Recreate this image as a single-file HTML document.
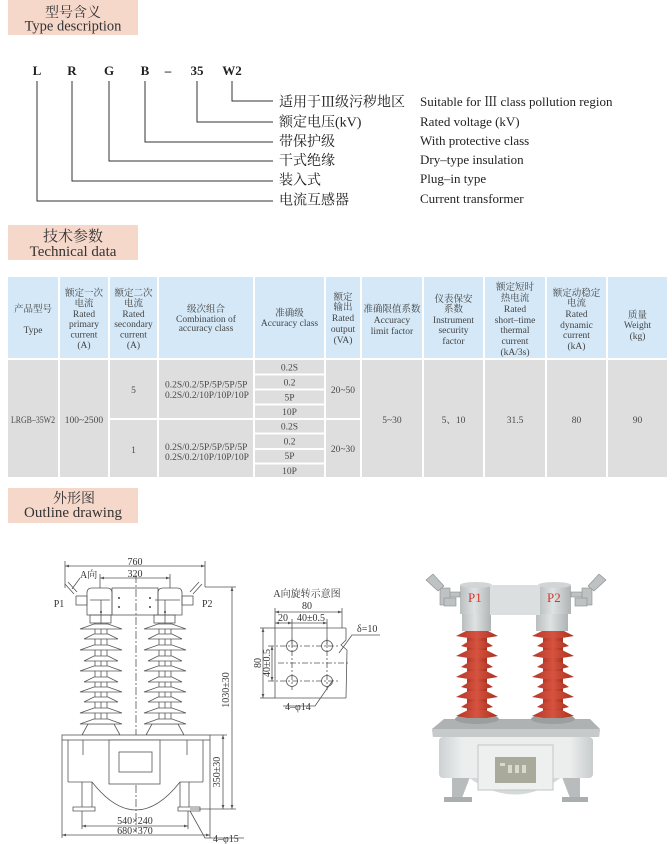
<!DOCTYPE html>
<html><head><meta charset="utf-8">
<style>
html,body{margin:0;padding:0;background:#fff;}
svg{display:block;}
text{font-family:"Liberation Serif","Noto Serif CJK SC",serif;}
</style></head>
<body>
<svg width="672" height="844" viewBox="0 0 672 844" xmlns="http://www.w3.org/2000/svg">
<defs>
<marker id="ar" viewBox="0 0 10 10" refX="10" refY="5" markerWidth="5" markerHeight="5" orient="auto-start-reverse"><path d="M0,1.5 L10,5 L0,8.5 Z" fill="#555"/></marker>
<linearGradient id="cyl" x1="0" x2="1" y1="0" y2="0"><stop offset="0" stop-color="#b9bebe"/><stop offset="0.45" stop-color="#dfe2e2"/><stop offset="1" stop-color="#aeb3b3"/></linearGradient>
<linearGradient id="red" x1="0" x2="1" y1="0" y2="0"><stop offset="0" stop-color="#b5372a"/><stop offset="0.5" stop-color="#d6533f"/><stop offset="1" stop-color="#a8301f"/></linearGradient>
<linearGradient id="body" x1="0" x2="1" y1="0" y2="0"><stop offset="0" stop-color="#cdd1d1"/><stop offset="0.15" stop-color="#eceeee"/><stop offset="0.85" stop-color="#eceeee"/><stop offset="1" stop-color="#c8cccc"/></linearGradient>
</defs>

<!-- ===== Type description ===== -->
<rect x="8" y="0" width="130" height="35" fill="#f6d8cb"/>
<text x="73" y="17" font-size="14" text-anchor="middle" fill="#333">型号含义</text>
<text x="73" y="30.5" font-size="14.5" text-anchor="middle" fill="#333">Type description</text>

<g font-size="13" font-weight="bold" fill="#222" text-anchor="middle">
<text x="37" y="75">L</text>
<text x="72" y="75">R</text>
<text x="109" y="75">G</text>
<text x="145" y="75">B</text>
<text x="168" y="75">–</text>
<text x="197" y="75">35</text>
<text x="232" y="75">W2</text>
</g>
<g stroke="#333" stroke-width="1" fill="none">
<path d="M37,81 V201 H273"/>
<path d="M72,81 V181 H273"/>
<path d="M109,81 V161 H273"/>
<path d="M145,81 V142 H273"/>
<path d="M197,81 V122 H273"/>
<path d="M232,81 V101 H273"/>
</g>
<g font-size="14" fill="#222">
<text x="279" y="106.5">适用于Ⅲ级污秽地区</text>
<text x="279" y="126.5">额定电压(kV)</text>
<text x="279" y="146">带保护级</text>
<text x="279" y="165">干式绝缘</text>
<text x="279" y="184.5">装入式</text>
<text x="279" y="204.5">电流互感器</text>
</g>
<g font-size="13" fill="#222">
<text x="420" y="106">Suitable for Ⅲ class pollution region</text>
<text x="420" y="126">Rated voltage (kV)</text>
<text x="420" y="145">With protective class</text>
<text x="420" y="164">Dry–type insulation</text>
<text x="420" y="183">Plug–in type</text>
<text x="420" y="203">Current transformer</text>
</g>

<!-- ===== Technical data ===== -->
<rect x="8" y="225" width="130" height="35" fill="#f6d8cb"/>
<text x="73" y="241" font-size="15" text-anchor="middle" fill="#333">技术参数</text>
<text x="73" y="256" font-size="15" text-anchor="middle" fill="#333">Technical data</text>

<g fill="#d4e8f7">
<rect x="8" y="277" width="50" height="81"/>
<rect x="60" y="277" width="48" height="81"/>
<rect x="110" y="277" width="47" height="81"/>
<rect x="159" y="277" width="94" height="81"/>
<rect x="255" y="277" width="69" height="81"/>
<rect x="326" y="277" width="34" height="81"/>
<rect x="362" y="277" width="60" height="81"/>
<rect x="424" y="277" width="59" height="81"/>
<rect x="485" y="277" width="60" height="81"/>
<rect x="547" y="277" width="59" height="81"/>
<rect x="608" y="277" width="59" height="81"/>
</g>
<g fill="#dedede">
<rect x="8" y="360" width="50" height="117"/>
<rect x="60" y="360" width="48" height="117"/>
<rect x="110" y="360" width="47" height="58"/>
<rect x="110" y="420" width="47" height="57"/>
<rect x="159" y="360" width="94" height="58"/>
<rect x="159" y="420" width="94" height="57"/>
<rect x="255" y="360" width="69" height="13.5"/>
<rect x="255" y="375.5" width="69" height="13"/>
<rect x="255" y="390.5" width="69" height="13"/>
<rect x="255" y="405.5" width="69" height="12.5"/>
<rect x="255" y="420" width="69" height="12.5"/>
<rect x="255" y="434.5" width="69" height="13.5"/>
<rect x="255" y="450" width="69" height="12.5"/>
<rect x="255" y="464.5" width="69" height="12.5"/>
<rect x="326" y="360" width="34" height="58"/>
<rect x="326" y="420" width="34" height="57"/>
<rect x="362" y="360" width="60" height="117"/>
<rect x="424" y="360" width="59" height="117"/>
<rect x="485" y="360" width="60" height="117"/>
<rect x="547" y="360" width="59" height="117"/>
<rect x="608" y="360" width="59" height="117"/>
</g>

<g font-size="9.5" fill="#444" text-anchor="middle">
<text x="33" y="312">产品型号</text>
<text x="33" y="333">Type</text>

<text x="84" y="296">额定一次</text>
<text x="84" y="306.5">电流</text>
<text x="84" y="317">Rated</text>
<text x="84" y="327">primary</text>
<text x="84" y="337.5">current</text>
<text x="84" y="348">(A)</text>

<text x="133.5" y="296">额定二次</text>
<text x="133.5" y="306.5">电流</text>
<text x="133.5" y="317">Rated</text>
<text x="133.5" y="327">secondary</text>
<text x="133.5" y="337.5">current</text>
<text x="133.5" y="348">(A)</text>

<text x="206" y="312">级次组合</text>
<text x="206" y="322">Combination of</text>
<text x="206" y="331">accuracy class</text>

<text x="289.5" y="316">准确级</text>
<text x="289.5" y="326">Accuracy class</text>

<text x="343" y="300">额定</text>
<text x="343" y="310">输出</text>
<text x="343" y="321">Rated</text>
<text x="343" y="332">output</text>
<text x="343" y="343">(VA)</text>

<text x="392" y="312">准确限值系数</text>
<text x="392" y="323">Accuracy</text>
<text x="392" y="334">limit factor</text>

<text x="453.5" y="302">仪表保安</text>
<text x="453.5" y="312">系数</text>
<text x="453.5" y="323">Instrument</text>
<text x="453.5" y="333">security</text>
<text x="453.5" y="344">factor</text>

<text x="515" y="290">额定短时</text>
<text x="515" y="301">热电流</text>
<text x="515" y="312">Rated</text>
<text x="515" y="323">short–time</text>
<text x="515" y="333">thermal</text>
<text x="515" y="344">current</text>
<text x="515" y="355">(kA/3s)</text>

<text x="576.5" y="296">额定动稳定</text>
<text x="576.5" y="306">电流</text>
<text x="576.5" y="317">Rated</text>
<text x="576.5" y="328">dynamic</text>
<text x="576.5" y="338">current</text>
<text x="576.5" y="349">(kA)</text>

<text x="637.5" y="318">质量</text>
<text x="637.5" y="328">Weight</text>
<text x="637.5" y="339">(kg)</text>
</g>

<g font-size="9.5" fill="#4a4a4a" text-anchor="middle">
<text x="33" y="423" textLength="44" lengthAdjust="spacingAndGlyphs">LRGB–35W2</text>
<text x="84" y="423">100~2500</text>
<text x="133.5" y="393">5</text>
<text x="133.5" y="453">1</text>
<text x="289.5" y="370.5">0.2S</text>
<text x="289.5" y="385.5">0.2</text>
<text x="289.5" y="400.5">5P</text>
<text x="289.5" y="415">10P</text>
<text x="289.5" y="429.5">0.2S</text>
<text x="289.5" y="444.5">0.2</text>
<text x="289.5" y="459">5P</text>
<text x="289.5" y="474">10P</text>
<text x="343" y="393">20~50</text>
<text x="343" y="452">20~30</text>
<text x="392" y="423">5~30</text>
<text x="453.5" y="423">5、10</text>
<text x="515" y="423">31.5</text>
<text x="576.5" y="423">80</text>
<text x="637.5" y="423">90</text>
</g>
<g font-size="9.5" fill="#4a4a4a">
<text x="165" y="387.5">0.2S/0.2/5P/5P/5P/5P</text>
<text x="165" y="398">0.2S/0.2/10P/10P/10P</text>
<text x="165" y="450">0.2S/0.2/5P/5P/5P/5P</text>
<text x="165" y="460">0.2S/0.2/10P/10P/10P</text>
</g>

<!-- ===== Outline drawing ===== -->
<rect x="8" y="488" width="130" height="35" fill="#f6d8cb"/>
<text x="74" y="503" font-size="14" text-anchor="middle" fill="#333">外形图</text>
<text x="73" y="517" font-size="15" text-anchor="middle" fill="#333">Outline drawing</text>

<!-- left drawing -->
<g stroke="#555" stroke-width="0.8" fill="none">
  <line x1="65" y1="566" x2="205" y2="566" marker-start="url(#ar)" marker-end="url(#ar)"/>
  <line x1="65" y1="561" x2="65" y2="588"/>
  <line x1="205" y1="561" x2="205" y2="587"/>
  <line x1="100" y1="578" x2="170" y2="578" marker-start="url(#ar)" marker-end="url(#ar)"/>
  <line x1="100" y1="574" x2="100" y2="589"/>
  <line x1="170" y1="574" x2="170" y2="589"/>
  <line x1="205" y1="587" x2="236" y2="587"/>
  <line x1="232" y1="587" x2="232" y2="809" marker-start="url(#ar)" marker-end="url(#ar)"/>
  <line x1="190" y1="809" x2="236" y2="809"/>
  <line x1="210" y1="735" x2="227" y2="735"/>
  <line x1="223" y1="735" x2="223" y2="809" marker-start="url(#ar)" marker-end="url(#ar)"/>
  <line x1="136" y1="575" x2="136" y2="832" stroke-dasharray="8,2,2,2"/>
  <path d="M87,615 V593 Q87,588 92,588 H107 Q112,588 112,593 V615 Z" fill="#fff"/>
  <path d="M158,615 V593 Q158,588 163,588 H177 Q182,588 182,593 V615 Z" fill="#fff"/>
  <rect x="112" y="588" width="46" height="27"/>
  <rect x="90" y="615" width="21" height="8"/>
  <rect x="154" y="615" width="21" height="8"/>
  <line x1="101" y1="600" x2="101" y2="735"/>
  <line x1="165" y1="600" x2="165" y2="735"/>
  <line x1="90" y1="600" x2="110" y2="600"/>
  <line x1="155" y1="600" x2="180" y2="600"/>
  <rect x="76" y="596" width="11" height="9"/>
  <rect x="182" y="596" width="11" height="9"/>
  <line x1="74" y1="594" x2="65" y2="584"/>
  <line x1="77" y1="592" x2="68" y2="582"/>
  <line x1="193" y1="594" x2="202" y2="584"/>
  <line x1="190" y1="592" x2="199" y2="582"/>
  <line x1="80" y1="578" x2="72" y2="589"/>
  <line x1="95" y1="623" x2="95" y2="724"/>
  <line x1="107" y1="623" x2="107" y2="724"/>
  <line x1="159" y1="623" x2="159" y2="724"/>
  <line x1="171" y1="623" x2="171" y2="724"/>
  <path d="M88,724 H114 L120,735 H82 Z" fill="#fff"/>
  <path d="M152,724 H178 L184,735 H146 Z" fill="#fff"/>
  <rect x="62" y="735" width="148" height="5" fill="#fff"/>
  <line x1="68" y1="740" x2="68" y2="782"/>
  <line x1="203" y1="740" x2="203" y2="782"/>
  <line x1="68" y1="782" x2="92" y2="782"/>
  <line x1="180" y1="782" x2="203" y2="782"/>
  <line x1="83" y1="740" x2="83" y2="755"/>
  <line x1="187" y1="740" x2="187" y2="755"/>
  <rect x="109" y="740" width="51" height="44" fill="#fff"/>
  <rect x="119" y="752" width="33" height="20"/>
  <path d="M92,782 Q136,838 180,782"/>
  <path d="M82,782 V807 M92,782 V807 M73,807 H95 V811 H73 Z"/>
  <path d="M180,782 V807 M189,782 V807 M178,807 H200 V811 H178 Z"/>
  <line x1="82" y1="811" x2="82" y2="829"/>
  <line x1="188" y1="811" x2="188" y2="829"/>
  <line x1="82" y1="826" x2="188" y2="826" marker-start="url(#ar)" marker-end="url(#ar)"/>
  <line x1="62" y1="740" x2="62" y2="838"/>
  <line x1="210" y1="740" x2="210" y2="838"/>
  <line x1="62" y1="835" x2="210" y2="835" marker-start="url(#ar)" marker-end="url(#ar)"/>
  <path d="M190,811 L205,838 H244"/>
</g>
<g stroke="#555" stroke-width="0.8" fill="#fff">
  <path d="M80,629 L94,624 H108 L122,629 Z"/><path d="M144,629 L158,624 H172 L186,629 Z"/>
  <path d="M84,639 L94,634 H108 L118,639 Z"/><path d="M148,639 L158,634 H172 L182,639 Z"/>
  <path d="M80,650 L94,645 H108 L122,650 Z"/><path d="M144,650 L158,645 H172 L186,650 Z"/>
  <path d="M84,661 L94,656 H108 L118,661 Z"/><path d="M148,661 L158,656 H172 L182,661 Z"/>
  <path d="M80,671 L94,666 H108 L122,671 Z"/><path d="M144,671 L158,666 H172 L186,671 Z"/>
  <path d="M84,682 L94,677 H108 L118,682 Z"/><path d="M148,682 L158,677 H172 L182,682 Z"/>
  <path d="M80,692 L94,687 H108 L122,692 Z"/><path d="M144,692 L158,687 H172 L186,692 Z"/>
  <path d="M84,702 L94,697 H108 L118,702 Z"/><path d="M148,702 L158,697 H172 L182,702 Z"/>
  <path d="M80,713 L94,708 H108 L122,713 Z"/><path d="M144,713 L158,708 H172 L186,713 Z"/>
  <path d="M80,724 L94,719 H108 L122,724 Z"/><path d="M144,724 L158,719 H172 L186,724 Z"/>
</g>
<g fill="#444">
  <circle cx="119" cy="598" r="1"/><circle cx="119" cy="607" r="1"/>
  <circle cx="150" cy="598" r="1"/><circle cx="150" cy="607" r="1"/>
  <circle cx="101" cy="612" r="1"/><circle cx="165" cy="612" r="1"/>
</g>
<g font-size="10" fill="#333">
  <text x="135" y="565" text-anchor="middle">760</text>
  <text x="135" y="577" text-anchor="middle">320</text>
  <text x="80" y="578">A向</text>
  <text x="59" y="607" text-anchor="middle">P1</text>
  <text x="202" y="607">P2</text>
  <text transform="translate(229,690) rotate(-90)" text-anchor="middle">1030±30</text>
  <text transform="translate(220,772) rotate(-90)" text-anchor="middle">350±30</text>
  <text x="135" y="824" text-anchor="middle">540×240</text>
  <text x="135" y="834" text-anchor="middle">680×370</text>
  <text x="213" y="842">4–φ15</text>
</g>

<!-- middle drawing -->
<g stroke="#555" stroke-width="0.8" fill="none">
  <line x1="275" y1="612" x2="342" y2="612" marker-start="url(#ar)" marker-end="url(#ar)"/>
  <line x1="275" y1="608" x2="275" y2="628"/>
  <line x1="342" y1="608" x2="342" y2="628"/>
  <line x1="275" y1="623" x2="292" y2="623" marker-start="url(#ar)" marker-end="url(#ar)"/>
  <line x1="292" y1="623" x2="327" y2="623" marker-end="url(#ar)"/>
  <line x1="292" y1="619" x2="292" y2="646"/>
  <line x1="327" y1="619" x2="327" y2="646"/>
  <path d="M275,628 H346 M275,698 H346 M275,628 V698"/>
  <path d="M346,628 L346,640 L341,645 L347,650 L346,698"/>
  <line x1="260" y1="628" x2="275" y2="628"/>
  <line x1="260" y1="698" x2="275" y2="698"/>
  <line x1="263" y1="628" x2="263" y2="698" marker-start="url(#ar)" marker-end="url(#ar)"/>
  <line x1="272" y1="646" x2="272" y2="681" marker-start="url(#ar)" marker-end="url(#ar)"/>
  <g stroke-dasharray="6,2,2,2">
    <line x1="268" y1="646" x2="338" y2="646"/>
    <line x1="268" y1="681" x2="338" y2="681"/>
    <line x1="278" y1="663" x2="350" y2="663"/>
    <line x1="292" y1="638" x2="292" y2="690"/>
    <line x1="327" y1="638" x2="327" y2="690"/>
  </g>
  <circle cx="292" cy="646" r="5.5"/>
  <circle cx="327" cy="646" r="5.5"/>
  <circle cx="292" cy="681" r="5.5"/>
  <circle cx="327" cy="681" r="5.5"/>
  <path d="M339,653 L352,635 H380"/>
  <path d="M283,706 H315 L333,680"/>
</g>
<g font-size="10" fill="#333">
  <text x="307" y="597" text-anchor="middle">A向旋转示意图</text>
  <text x="307" y="609" text-anchor="middle">80</text>
  <text x="283" y="621" text-anchor="middle">20</text>
  <text x="311" y="621" text-anchor="middle">40±0.5</text>
  <text x="357" y="632">δ=10</text>
  <text x="285" y="710">4–φ14</text>
  <text transform="translate(261,663) rotate(-90)" text-anchor="middle">80</text>
  <text transform="translate(270,663) rotate(-90)" text-anchor="middle">40±0.5</text>
</g>

<!-- ===== Photo ===== -->
<g>
  <path d="M452,777 L470,777 L462,798 L452,798 Z" fill="#b8bcbc"/>
  <path d="M562,777 L580,777 L580,798 L570,798 Z" fill="#b8bcbc"/>
  <rect x="444" y="797" width="28" height="5" fill="#a9aeae"/>
  <rect x="562" y="797" width="26" height="5" fill="#a9aeae"/>
  <path d="M468,777 Q515,812 562,777 Z" fill="#d6d9d9"/>
  <rect x="439" y="737" width="154" height="41" rx="4" fill="url(#body)"/>
  <path d="M444,719 H590 L600,729 L599,737 H433 L432,729 Z" fill="#aeb2b2"/>
  <path d="M432,729 H600 L599,737 H433 Z" fill="#c6caca"/>
  <rect x="478" y="745" width="75" height="45" fill="#eef0f0" stroke="#c2c6c6" stroke-width="1"/>
  <rect x="495" y="757" width="41" height="26" fill="#a9a99c"/>
  <g fill="#d8d8cc"><rect x="500" y="763" width="5" height="3"/><rect x="508" y="765" width="4" height="8"/><rect x="515" y="765" width="4" height="8"/><rect x="522" y="765" width="4" height="8"/></g>
  <ellipse cx="477" cy="719" rx="22" ry="5" fill="#9c9f9f"/>
  <ellipse cx="553" cy="719" rx="22" ry="5" fill="#9c9f9f"/>
  <rect x="467" y="630" width="20" height="88" fill="url(#red)"/>
  <rect x="543" y="630" width="20" height="88" fill="url(#red)"/>
  <g fill="url(#red)">
    <path d="M456,636 L468,630 H486 L498,636 L486,638 H468 Z"/>
    <path d="M461,646 L469,641 H485 L493,646 L485,648 H469 Z"/>
    <path d="M456,656 L468,650 H486 L498,656 L486,658 H468 Z"/>
    <path d="M461,667 L469,662 H485 L493,667 L485,669 H469 Z"/>
    <path d="M456,677 L468,671 H486 L498,677 L486,679 H468 Z"/>
    <path d="M461,687 L469,682 H485 L493,687 L485,689 H469 Z"/>
    <path d="M456,697 L468,691 H486 L498,697 L486,699 H468 Z"/>
    <path d="M461,707 L469,702 H485 L493,707 L485,709 H469 Z"/>
    <path d="M456,716 L468,710 H486 L498,716 L486,718 H468 Z"/>
    <path d="M532,636 L544,630 H562 L574,636 L562,638 H544 Z"/>
    <path d="M537,646 L545,641 H561 L569,646 L561,648 H545 Z"/>
    <path d="M532,656 L544,650 H562 L574,656 L562,658 H544 Z"/>
    <path d="M537,667 L545,662 H561 L569,667 L561,669 H545 Z"/>
    <path d="M532,677 L544,671 H562 L574,677 L562,679 H544 Z"/>
    <path d="M537,687 L545,682 H561 L569,687 L561,689 H545 Z"/>
    <path d="M532,697 L544,691 H562 L574,697 L562,699 H544 Z"/>
    <path d="M537,707 L545,702 H561 L569,707 L561,709 H545 Z"/>
    <path d="M532,716 L544,710 H562 L574,716 L562,718 H544 Z"/>
  </g>
  <rect x="462" y="612" width="29" height="19" fill="url(#cyl)"/>
  <rect x="536" y="612" width="32" height="19" fill="url(#cyl)"/>
  <rect x="460" y="585" width="32" height="29" fill="url(#cyl)"/>
  <ellipse cx="476" cy="585" rx="16" ry="3" fill="#d2d5d5"/>
  <rect x="538" y="585" width="33" height="29" fill="url(#cyl)"/>
  <ellipse cx="554.5" cy="585" rx="16.5" ry="3" fill="#d2d5d5"/>
  <rect x="490" y="585" width="50" height="30" fill="#dcdfdf"/>
  <text x="468" y="602" font-size="13" fill="#d6362c" font-family="Liberation Sans, sans-serif">P1</text>
  <text x="547" y="602" font-size="13" fill="#d6362c" font-family="Liberation Sans, sans-serif">P2</text>
  <g fill="#bfc2c2" stroke="#8a8d8d" stroke-width="0.6">
    <rect x="446" y="592" width="14" height="5"/>
    <rect x="440" y="588" width="10" height="17"/>
    <rect x="444" y="598" width="12" height="8"/>
    <path d="M426,580 L433,574 L444,586 L438,591 Z"/>
    <rect x="571" y="592" width="14" height="5"/>
    <rect x="582" y="588" width="10" height="17"/>
    <rect x="575" y="598" width="12" height="8"/>
    <path d="M606,580 L599,574 L588,586 L594,591 Z"/>
  </g>
</g>
</svg>
</body></html>
